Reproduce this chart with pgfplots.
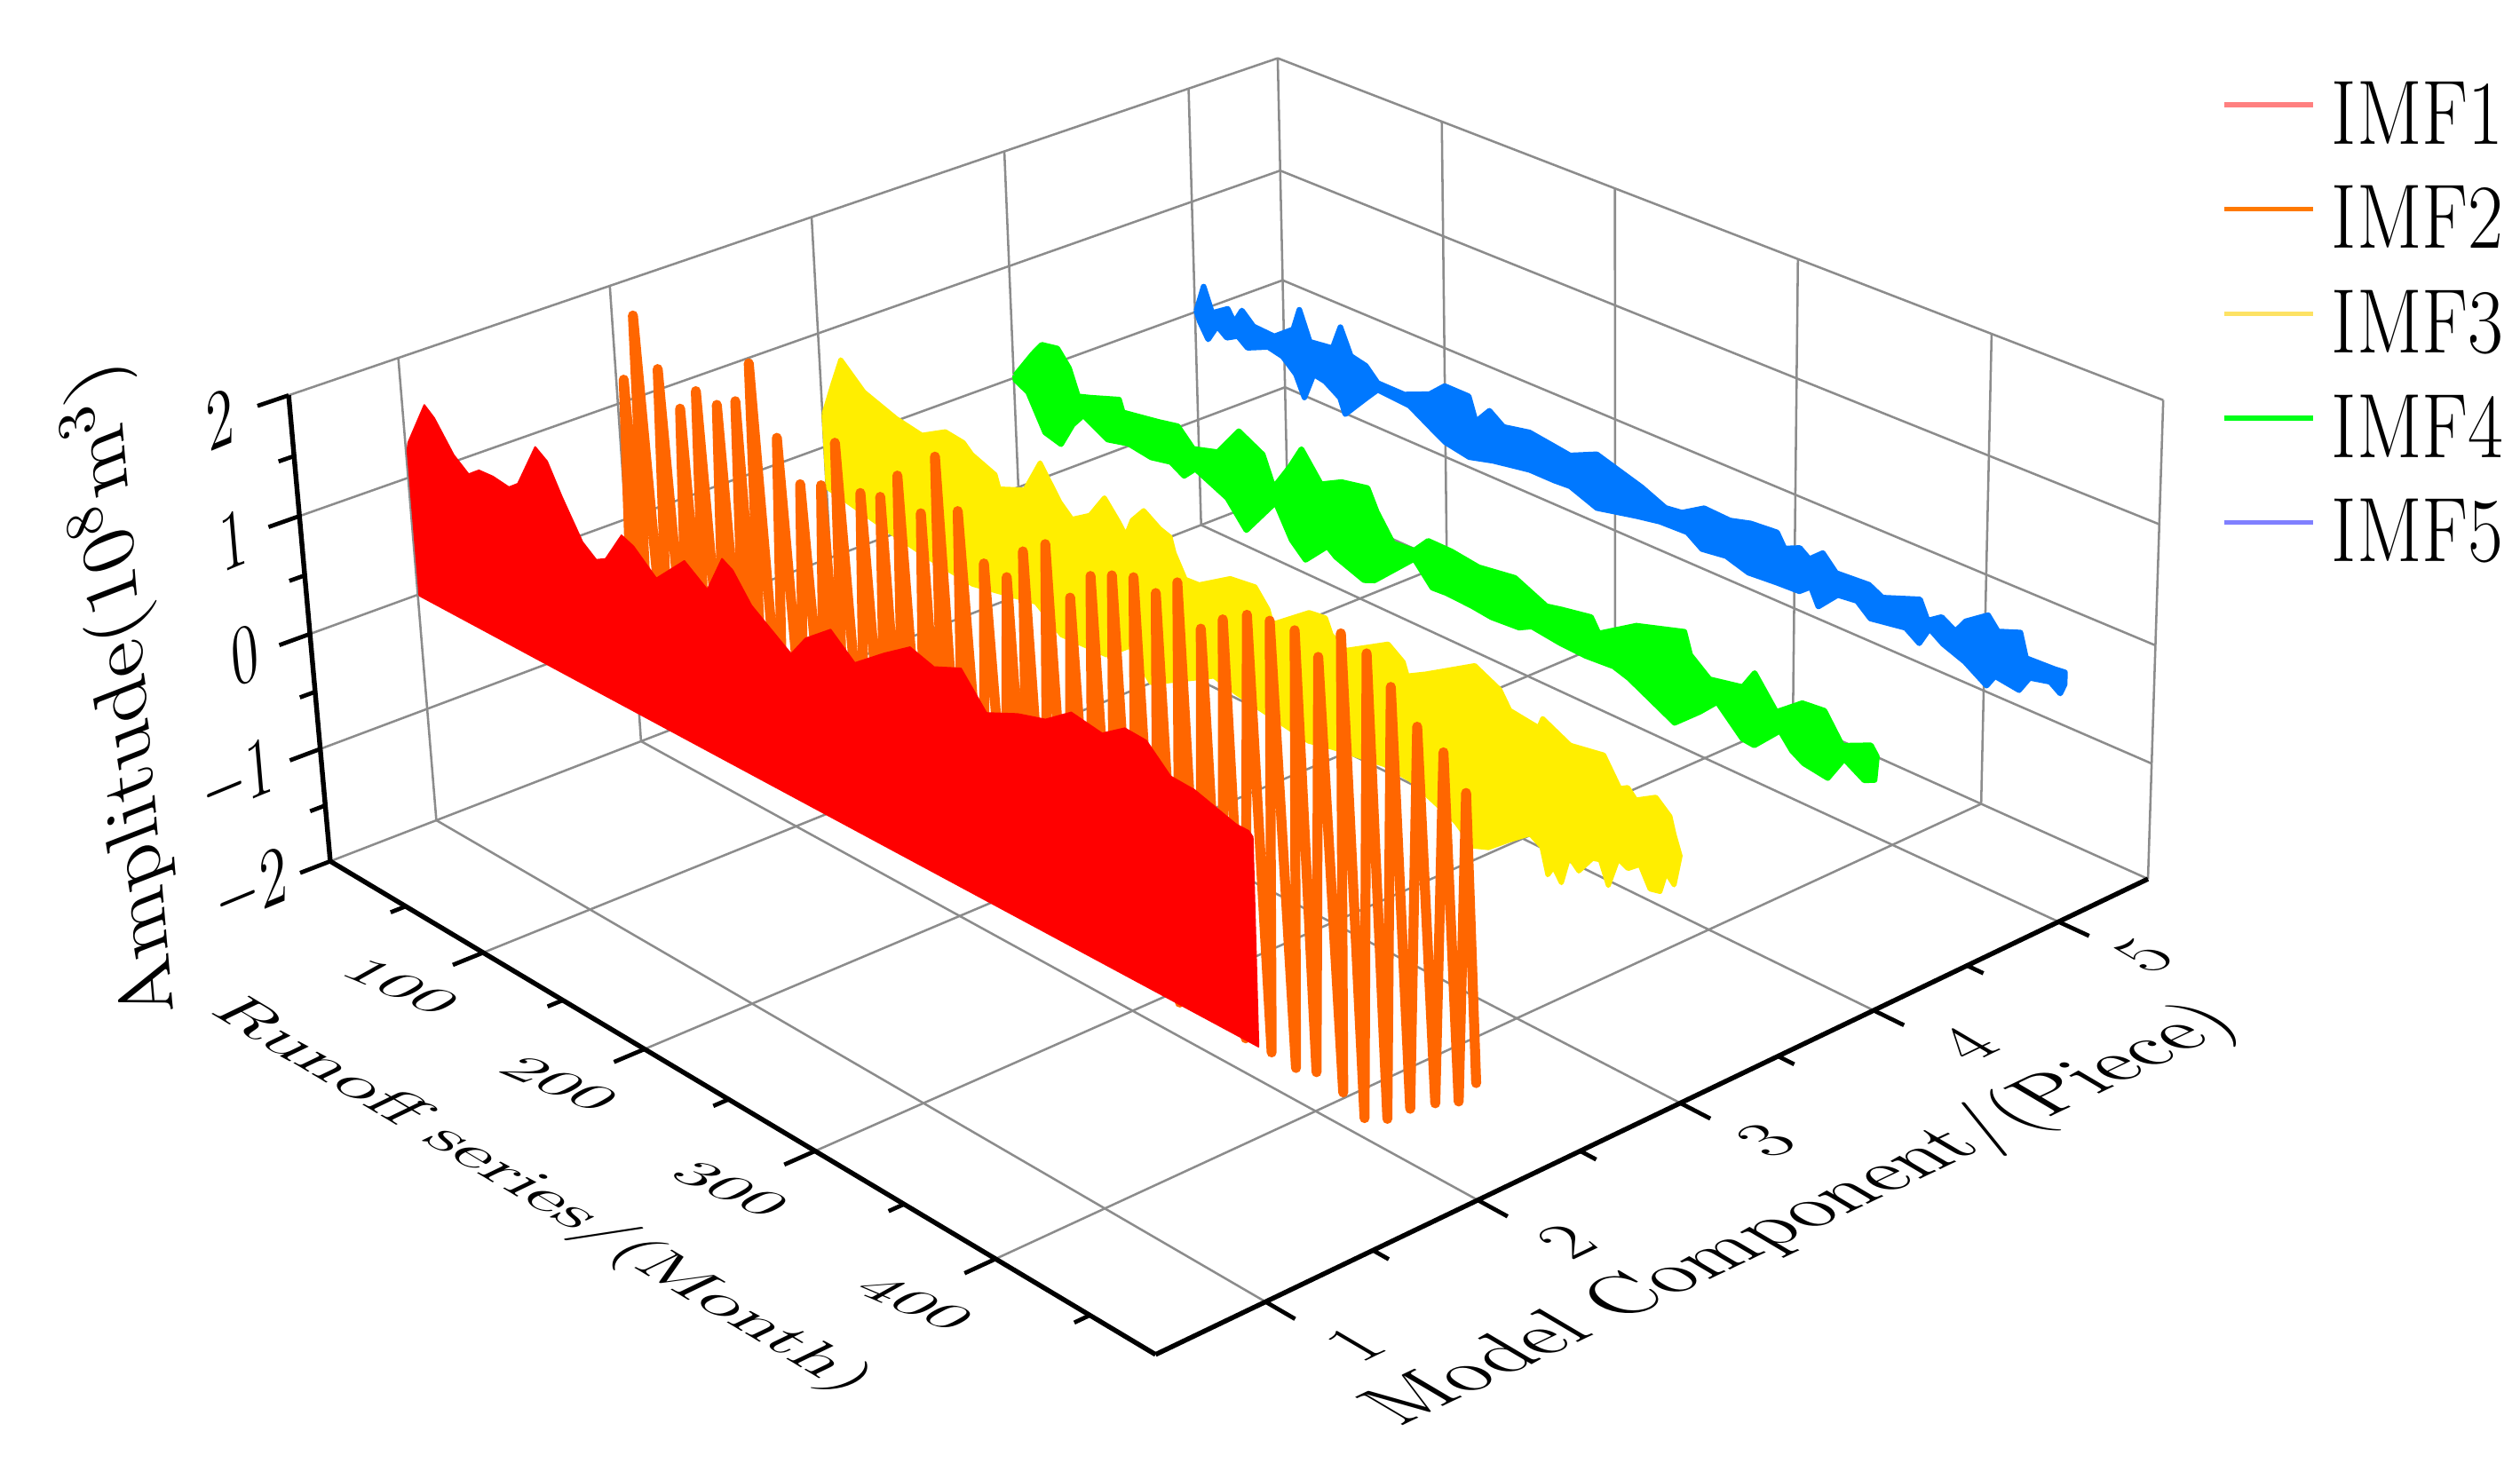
\documentclass[border=0pt]{standalone}
\usepackage{pgfplots}
\usepackage{pgfplotstable}
\pgfplotsset{compat=1.18}

% month, amplitude (outline of the band: upper side left to right, then lower side back)
\pgfplotstableread{
m z
1 0.00
1 1.24
2 1.31
15 1.71
21 1.64
32 1.41
41 1.31
48 1.39
57 1.40
67 1.38
73 1.45
86 1.84
93 1.77
101 1.53
112 1.24
120 1.15
126 1.20
137 1.47
144 1.43
157 1.26
175 1.53
188 1.39
198 1.71
204 1.66
214 1.45
236 1.22
245 1.41
260 1.59
273 1.42
290 1.62
305 1.78
318 1.72
333 1.82
346 1.57
363 1.69
378 1.76
392 1.92
408 1.88
420 2.01
431 2.00
443 1.82
455 1.81
476 1.71
482 1.71
484 1.68
484 0.06
1 0.00
}\imfone

\pgfplotstableread{
m z
1 -0.3
5 1.24
9 -1.3
14 1.84
21 -1.6
28 1.48
34 -1.4
41 1.23
46 -1.3
52 1.45
58 -1.4
65 1.42
71 -1.4
77 1.53
82 -1.6
87 1.91
94 -1.6
102 1.39
108 -1.2
115 1.09
121 -1.1
128 1.17
133 -1.3
138 1.59
145 -1.4
152 1.27
158 -1.3
164 1.32
169 -1.4
175 1.57
181 -1.4
188 1.35
193 -1.5
198 1.88
204 -1.6
210 1.52
217 -1.3
224 1.19
230 -1.1
237 1.17
242 -1.3
247 1.45
253 -1.5
260 1.60
266 -1.4
273 1.26
279 -1.4
285 1.52
291 -1.5
297 1.61
303 -1.6
309 1.68
315 -1.6
321 1.64
327 -1.7
333 1.81
339 -1.6
345 1.53
351 -1.6
357 1.69
363 -1.7
370 1.82
377 -1.70
382 1.86
390 -1.72
395 1.88
401 -1.66
407 1.76
415 -1.71
419 2.03
426 -1.83
432 1.97
438 -1.73
444 1.80
450 -1.54
457 1.59
463 -1.38
470 1.49
475 -1.26
481 1.26
484 -1.03
}\imftwo

\pgfplotstableread{
m z
1 0.30
8 0.61
14 0.86
28 0.67
48 0.57
64 0.53
79 0.66
90 0.64
95 0.57
109 0.49
111 0.38
127 0.48
137 0.78
148 0.52
155 0.42
166 0.53
175 0.74
183 0.59
187 0.50
191 0.66
198 0.79
207 0.70
213 0.67
215 0.55
221 0.37
229 0.38
247 0.56
261 0.59
268 0.45
270 0.34
291 0.59
300 0.61
303 0.49
311 0.42
334 0.64
342 0.55
344 0.45
354 0.54
380 0.80
393 0.70
398 0.57
413 0.54
415 0.63
429 0.52
446 0.57
454 0.36
458 0.40
462 0.33
472 0.43
479 0.33
481 0.20
484 0.05
481 -0.21
477 -0.14
474 -0.32
469 -0.34
464 -0.18
458 -0.26
453 -0.22
448 -0.48
444 -0.30
440 -0.32
433 -0.48
428 -0.40
424 -0.65
420 -0.55
417 -0.64
414 -0.43
408 -0.37
397 -0.51
386 -0.66
378 -0.71
369 -0.58
345 -0.41
331 -0.39
303 -0.46
289 -0.51
249 -0.40
236 -0.35
199 -0.68
187 -0.45
173 -0.63
146 -0.65
131 -0.47
92 -0.59
67 -0.55
43 -0.49
1 -0.36
1 0.30
}\imfthree

\pgfplotstableread{
m z
1 0.03
13 0.30
19 0.42
29 0.45
36 0.32
41 0.10
49 0.14
67 0.24
69 0.14
91 0.20
103 0.24
112 0.10
127 0.17
140 0.44
154 0.33
160 0.08
170 0.33
177 0.53
188 0.30
200 0.40
215 0.45
220 0.28
229 0.07
241 0.09
249 0.23
262 0.23
277 0.20
297 0.25
314 0.13
322 0.16
338 0.21
342 0.10
362 0.31
387 0.44
390 0.27
400 0.14
417 0.20
423 0.36
434 0.12
447 0.29
458 0.31
467 0.09
481 0.20
484 0.13
483 -0.07
478 -0.11
468 -0.01
460 -0.23
448 -0.20
442 -0.14
436 -0.02
423 -0.24
417 -0.23
404 -0.02
395 -0.17
382 -0.36
358 -0.16
350 -0.12
335 -0.14
321 -0.13
306 -0.10
299 -0.16
284 -0.18
273 -0.16
259 -0.15
251 -0.16
241 0.02
218 -0.33
212 -0.37
196 -0.28
191 -0.22
178 -0.43
170 -0.31
161 -0.04
143 -0.41
132 -0.20
113 -0.07
106 -0.18
98 -0.11
86 -0.15
72 -0.12
59 -0.17
44 -0.05
37 -0.18
29 -0.41
19 -0.37
9 -0.07
1 -0.01
1 0.03
}\imffour

\pgfplotstableread{
m z
1 0.02
6 0.27
11 0.06
21 0.16
25 0.06
30 0.20
37 0.10
50 0.09
62 0.23
66 0.43
72 0.18
86 0.21
91 0.43
97 0.21
106 0.18
113 0.07
129 0.07
144 0.17
153 0.30
167 0.30
171 0.10
179 0.25
187 0.16
202 0.21
216 0.18
225 0.16
240 0.27
265 0.15
278 0.06
287 0.08
299 0.20
313 0.19
324 0.24
338 0.26
342 0.15
350 0.21
355 0.15
362 0.25
369 0.13
386 0.15
393 0.09
412 0.21
416 0.06
423 0.14
430 0.07
435 0.19
446 0.32
451 0.22
462 0.29
465 0.10
479 0.11
484 0.12
484 0.02
482 -0.07
477 -0.01
467 -0.05
462 -0.19
450 -0.16
446 -0.27
435 -0.15
424 -0.08
417 0.00
412 -0.16
405 -0.08
387 -0.13
380 -0.03
370 -0.05
360 -0.22
356 -0.08
350 -0.16
338 -0.17
323 -0.19
311 -0.13
298 -0.16
290 -0.07
275 -0.08
262 -0.12
240 -0.20
225 -0.11
216 -0.12
202 -0.12
181 -0.18
167 -0.24
153 -0.20
144 -0.12
132 -0.01
113 0.01
106 -0.11
93 -0.34
90 -0.21
81 -0.12
74 -0.10
68 -0.35
63 -0.17
55 -0.06
46 -0.03
33 -0.12
27 -0.05
20 -0.11
14 -0.04
8 -0.20
3 -0.07
1 0.01
1 0.02
}\imffive

% one straight piece between two points given as month, component, amplitude
\newcommand{\seg}[7][]{\addplot[forget plot,#1] table[row sep=\\,
  x expr={xs(\thisrow{m},\thisrow{c},\thisrow{z})},
  y expr={ys(\thisrow{m},\thisrow{c},\thisrow{z})}] {m c z\\ #2 #3 #4\\ #5 #6 #7\\};}
\newcommand{\band}[4][]{\addplot[forget plot,#1] table[
  x expr={xs(\thisrow{m},#2,\thisrow{z})},
  y expr={ys(\thisrow{m},#2,\thisrow{z})}] {#3};}

\definecolor{cred}{HTML}{FF0000}
\definecolor{corange}{HTML}{FF6600}
\definecolor{cyellow}{HTML}{FFEE00}
\definecolor{cgreen}{HTML}{00FF00}
\definecolor{cblue}{HTML}{0078FF}

\begin{document}
\begin{tikzpicture}
\useasboundingbox (0,0) rectangle (15.68,9.10);
\begin{axis}[
  scale only axis, width=15.68cm, height=9.10cm,
  xmin=0, xmax=1568, ymin=0, ymax=910, y dir=reverse,
  hide axis, clip=false,
  declare function={
    fU(\mm)=(\mm/484)/(1+0.145*(1-\mm/484));
    fV(\cc)=((\cc-0.5)/5)*1.122/(1+0.122*(\cc-0.5)/5);
    fW(\zz)=((\zz+2)/4)/(1+0.05*(1-(\zz+2)/4));
    tx(\ua,\va,\wa)=(1-\wa)*((1-\ua)*(1-\va)*205.5+\ua*(1-\va)*719+(1-\ua)*\va*801+\ua*\va*1336.5)
      +\wa*((1-\ua)*(1-\va)*179.6+\ua*(1-\va)*708+(1-\ua)*\va*795+\ua*\va*1346);
    ty(\ua,\va,\wa)=(1-\wa)*((1-\ua)*(1-\va)*536+\ua*(1-\va)*843+(1-\ua)*\va*306+\ua*\va*547)
      +\wa*((1-\ua)*(1-\va)*246+\ua*(1-\va)*525+(1-\ua)*\va*36.2+\ua*\va*249);
    xs(\mm,\cc,\zz)=tx(fU(\mm),fV(\cc),fW(\zz));
    ys(\mm,\cc,\zz)=ty(fU(\mm),fV(\cc),fW(\zz));
  },
  gl/.style={color=black!45, line width=0.14mm},
  ax/.style={color=black, line width=0.3mm},
  tk/.style={color=black, line width=0.26mm},
  legend style={at={(axis cs:1382,39.5)}, anchor=north west, draw=none, fill=none,
    inner sep=0pt, nodes={inner sep=0pt, minimum height=6.5mm},
    font=\fontsize{16.2}{18}\selectfont},
  legend cell align=left,
  legend image code/.code={\draw[#1] (0cm,0.75mm) -- (0.55cm,0.75mm); \path (0.65cm,0.75mm);},
]
% floor
\pgfplotsinvokeforeach{100,200,300,400}{\seg[gl]{#1}{0.5}{-2}{#1}{5.5}{-2}}
\pgfplotsinvokeforeach{1,2,3,4,5}{\seg[gl]{0}{#1}{-2}{484}{#1}{-2}}
\seg[gl]{0}{0.5}{-2}{0}{5.5}{-2}
\seg[gl]{0}{5.5}{-2}{484}{5.5}{-2}
% left wall
\pgfplotsinvokeforeach{-1,0,1,2}{\seg[gl]{0}{0.5}{#1}{0}{5.5}{#1}}
\pgfplotsinvokeforeach{1,2,3,4,5,5.5}{\seg[gl]{0}{#1}{-2}{0}{#1}{2}}
% back wall
\pgfplotsinvokeforeach{-1,0,1,2}{\seg[gl]{0}{5.5}{#1}{484}{5.5}{#1}}
\pgfplotsinvokeforeach{100,200,300,400,484}{\seg[gl]{#1}{5.5}{-2}{#1}{5.5}{2}}
% series, back to front
\band[color=cblue, fill=cblue, line width=0.35mm, line join=round]{5}{\imffive}{}
\band[color=cgreen, fill=cgreen, line width=0.35mm, line join=round]{4}{\imffour}{}
\band[color=cyellow, fill=cyellow, line width=0.3mm, line join=round]{3}{\imfthree}{}
\band[color=corange, line width=0.62mm, line join=round, line cap=round]{2}{\imftwo}{}
\band[color=cred, fill=cred, line width=0.1mm, line join=round]{1}{\imfone}{}
% axes
\seg[ax]{0}{0.5}{-2}{484}{0.5}{-2}
\seg[ax]{484}{0.5}{-2}{484}{5.5}{-2}
\seg[ax]{0}{0.5}{-2}{0}{0.5}{2}
\pgfplotsinvokeforeach{-2,-1,0,1,2}{\seg[tk]{0}{0.5}{#1}{0}{0.36}{#1}}
\pgfplotsinvokeforeach{-1.5,-0.5,0.5,1.5}{\seg[tk]{0}{0.5}{#1}{0}{0.43}{#1}}
\pgfplotsinvokeforeach{100,200,300,400}{\seg[tk]{#1}{0.5}{-2}{#1}{0.36}{-2}}
\pgfplotsinvokeforeach{50,150,250,350,450}{\seg[tk]{#1}{0.5}{-2}{#1}{0.43}{-2}}
\pgfplotsinvokeforeach{1,2,3,4,5}{\seg[tk]{484}{#1}{-2}{499}{#1}{-2}}
\pgfplotsinvokeforeach{1.5,2.5,3.5,4.5}{\seg[tk]{484}{#1}{-2}{492}{#1}{-2}}
% tick labels
\node[cm={.69,.285,-.09,1.05,(0,0)}] at (axis cs:137,261) {\fontsize{14}{16}\selectfont 2};
\node[cm={.69,.285,-.09,1.05,(0,0)}] at (axis cs:145.5,336) {\fontsize{14}{16}\selectfont 1};
\node[cm={.69,.285,-.09,1.05,(0,0)}] at (axis cs:152.3,408) {\fontsize{14}{16}\selectfont 0};
\node[cm={.69,.285,-.09,1.05,(0,0)}] at (axis cs:148,486) {\fontsize{14}{16}\selectfont $-$1};
\node[cm={.69,.285,-.09,1.05,(0,0)}] at (axis cs:156.5,554) {\fontsize{14}{16}\selectfont $-$2};
\node[cm={.92,-.39,.61,.34,(0,0)}] at (axis cs:250,614) {\fontsize{13}{15}\selectfont 100};
\node[cm={.92,-.39,.61,.34,(0,0)}] at (axis cs:348.7,674.6) {\fontsize{13}{15}\selectfont 200};
\node[cm={.92,-.39,.61,.34,(0,0)}] at (axis cs:455,740) {\fontsize{13}{15}\selectfont 300};
\node[cm={.92,-.39,.61,.34,(0,0)}] at (axis cs:569.8,811) {\fontsize{13}{15}\selectfont 400};
\node[cm={.81,.39,-.73,.43,(0,0)}] at (axis cs:843,836.7) {\fontsize{15}{17}\selectfont 1};
\node[cm={.81,.39,-.73,.43,(0,0)}] at (axis cs:974.6,772.5) {\fontsize{15}{17}\selectfont 2};
\node[cm={.81,.39,-.73,.43,(0,0)}] at (axis cs:1099,710) {\fontsize{15}{17}\selectfont 3};
\node[cm={.81,.39,-.73,.43,(0,0)}] at (axis cs:1224,650) {\fontsize{15}{17}\selectfont 4};
\node[cm={.81,.39,-.73,.43,(0,0)}] at (axis cs:1334,594.9) {\fontsize{15}{17}\selectfont 5};
% axis titles
\node[cm={.985,-.59,.81,.39,(0,0)}] at (axis cs:337,745) {\fontsize{12}{14}\selectfont Runoff series/(Month)};
\node[cm={.93,.444,-.88,.52,(0,0)}] at (axis cs:1122,757) {\fontsize{14}{16}\selectfont Model Component/(Piece)};
\node[cm={-.09,1.05,-.93,-.36,(0,0)}] at (axis cs:77,431) {\fontsize{14}{16}\selectfont Amplitude(10$^8$m$^3$)};
% legend
\addlegendimage{color=red!50, line width=0.3mm}
\addlegendentry{\scalebox{.84}[1]{IMF1}}
\addlegendimage{color=orange!95!red, line width=0.3mm}
\addlegendentry{\scalebox{.84}[1]{IMF2}}
\addlegendimage{color=yellow!70!orange!60, line width=0.3mm}
\addlegendentry{\scalebox{.84}[1]{IMF3}}
\addlegendimage{color=green!90!cyan, line width=0.3mm}
\addlegendentry{\scalebox{.84}[1]{IMF4}}
\addlegendimage{color=blue!50, line width=0.3mm}
\addlegendentry{\scalebox{.84}[1]{IMF5}}
\end{axis}
\end{tikzpicture}
\end{document}
